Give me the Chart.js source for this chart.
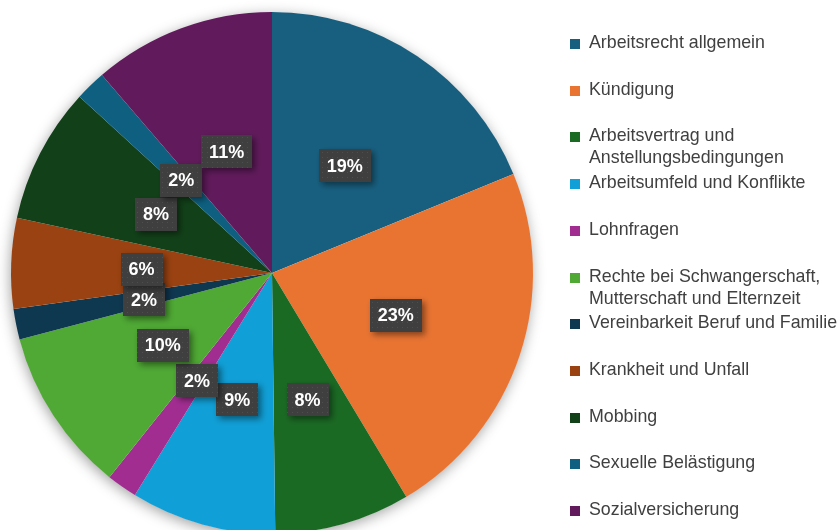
<!DOCTYPE html>
<html lang="de">
<head>
<meta charset="utf-8">
<title>Beratungsthemen</title>
<script src="https://cdn.jsdelivr.net/npm/chart.js@4/dist/chart.umd.min.js"></script>
<style>
  html, body { margin: 0; padding: 0; background: #fff; }
  body { width: 838px; height: 530px; overflow: hidden; position: relative; font-family: "Liberation Sans", Arial, sans-serif; }
  #pie { position: absolute; left: 0; top: 0; }
  .legend-item { position: absolute; left: 570px; white-space: nowrap; font-size: 17.8px; line-height: 22px; color: #404040; }
  .legend-item .box { position: absolute; left: 0; top: 8px; width: 10px; height: 10px; }
  .legend-item .txt { position: absolute; left: 19px; top: 0; }
</style>
</head>
<body>
<canvas id="pie" width="838" height="546"></canvas>
<div id="legend"></div>
<script>
// categories (legend text, line breaks as in the original)
const categories = [
  ['Arbeitsrecht allgemein'],
  ['Kündigung'],
  ['Arbeitsvertrag und', 'Anstellungsbedingungen'],
  ['Arbeitsumfeld und Konflikte'],
  ['Lohnfragen'],
  ['Rechte bei Schwangerschaft,', 'Mutterschaft und Elternzeit'],
  ['Vereinbarkeit Beruf und Familie'],
  ['Krankheit und Unfall'],
  ['Mobbing'],
  ['Sexuelle Belästigung'],
  ['Sozialversicherung']
];

// share of all consultations, in percent
const shares = [18.8, 22.6, 8.4, 9.0, 1.9, 10.2, 1.9, 5.6, 8.4, 1.9, 11.3];

const sliceColors = [
  '#185f7f', '#e97432', '#1b6a24', '#109fd6', '#a22d91', '#4fa934',
  '#0e3750', '#9a4211', '#124119', '#0e5f80', '#611b5c'
];

// soft shadow under the whole pie
const pieShadow = {
  id: 'pieShadow',
  beforeDatasetsDraw(chart) {
    const arc = chart.getDatasetMeta(0).data[0];
    if (!arc) return;
    const ctx = chart.ctx;
    ctx.save();
    ctx.shadowColor = 'rgba(0,0,0,0.38)';
    ctx.shadowBlur = 14;
    ctx.shadowOffsetX = -1;
    ctx.shadowOffsetY = 3;
    ctx.fillStyle = '#ffffff';
    ctx.beginPath();
    ctx.arc(arc.x, arc.y, arc.outerRadius - 0.5, 0, Math.PI * 2);
    ctx.fill();
    ctx.restore();
  }
};

// dark dotted boxes with the percentages
function makeDots(ctx) {
  const c = document.createElement('canvas');
  c.width = 5; c.height = 5;
  const p = c.getContext('2d');
  p.fillStyle = '#3f3f3f';
  p.fillRect(0, 0, 5, 5);
  p.fillStyle = '#4e4e4e';
  p.fillRect(2, 2, 1, 1);
  return ctx.createPattern(c, 'repeat');
}

const percentLabels = {
  id: 'percentLabels',
  afterDatasetsDraw(chart) {
    const ctx = chart.ctx;
    const meta = chart.getDatasetMeta(0);
    const values = chart.data.datasets[0].data;
    const total = values.reduce((a, b) => a + b, 0);
    const dots = makeDots(ctx);
    ctx.save();
    ctx.font = 'bold 18px "Liberation Sans", Arial, sans-serif';
    ctx.textAlign = 'center';
    ctx.textBaseline = 'middle';
    meta.data.forEach((arc, i) => {
      const mid = (arc.startAngle + arc.endAngle) / 2;
      const r = arc.outerRadius * 0.5;
      const px = arc.x + Math.cos(mid) * r;
      const py = arc.y + Math.sin(mid) * r + 1;
      const text = Math.round(values[i] / total * 100) + '%';
      const w = ctx.measureText(text).width + 16;
      const h = 33;
      ctx.save();
      ctx.shadowColor = 'rgba(0,0,0,0.45)';
      ctx.shadowBlur = 6;
      ctx.shadowOffsetX = 3;
      ctx.shadowOffsetY = 3;
      ctx.fillStyle = dots;
      ctx.fillRect(Math.round(px - w / 2), Math.round(py - h / 2), Math.round(w), h);
      ctx.restore();
      ctx.fillStyle = '#ffffff';
      ctx.fillText(text, px, py + 1);
    });
    ctx.restore();
  }
};

const ctxPie = document.getElementById('pie').getContext('2d');
const pieChart = new Chart(ctxPie, {
  type: 'pie',
  data: {
    labels: categories,
    datasets: [{
      data: shares,
      backgroundColor: sliceColors,
      borderWidth: 0
    }]
  },
  options: {
    responsive: false,
    animation: false,
    layout: { padding: { left: 11, top: 11, bottom: 11, right: 305 } },
    plugins: {
      legend: { display: false },
      tooltip: { enabled: false }
    }
  },
  plugins: [pieShadow, percentLabels]
});

// legend on the right
const legend = document.getElementById('legend');
categories.forEach((lines, i) => {
  const item = document.createElement('div');
  item.className = 'legend-item';
  item.style.top = (31 + i * 46.7) + 'px';
  const box = document.createElement('span');
  box.className = 'box';
  box.style.background = sliceColors[i];
  item.appendChild(box);
  const txt = document.createElement('span');
  txt.className = 'txt';
  txt.innerHTML = lines.join('<br>');
  item.appendChild(txt);
  legend.appendChild(item);
});
</script>
</body>
</html>
